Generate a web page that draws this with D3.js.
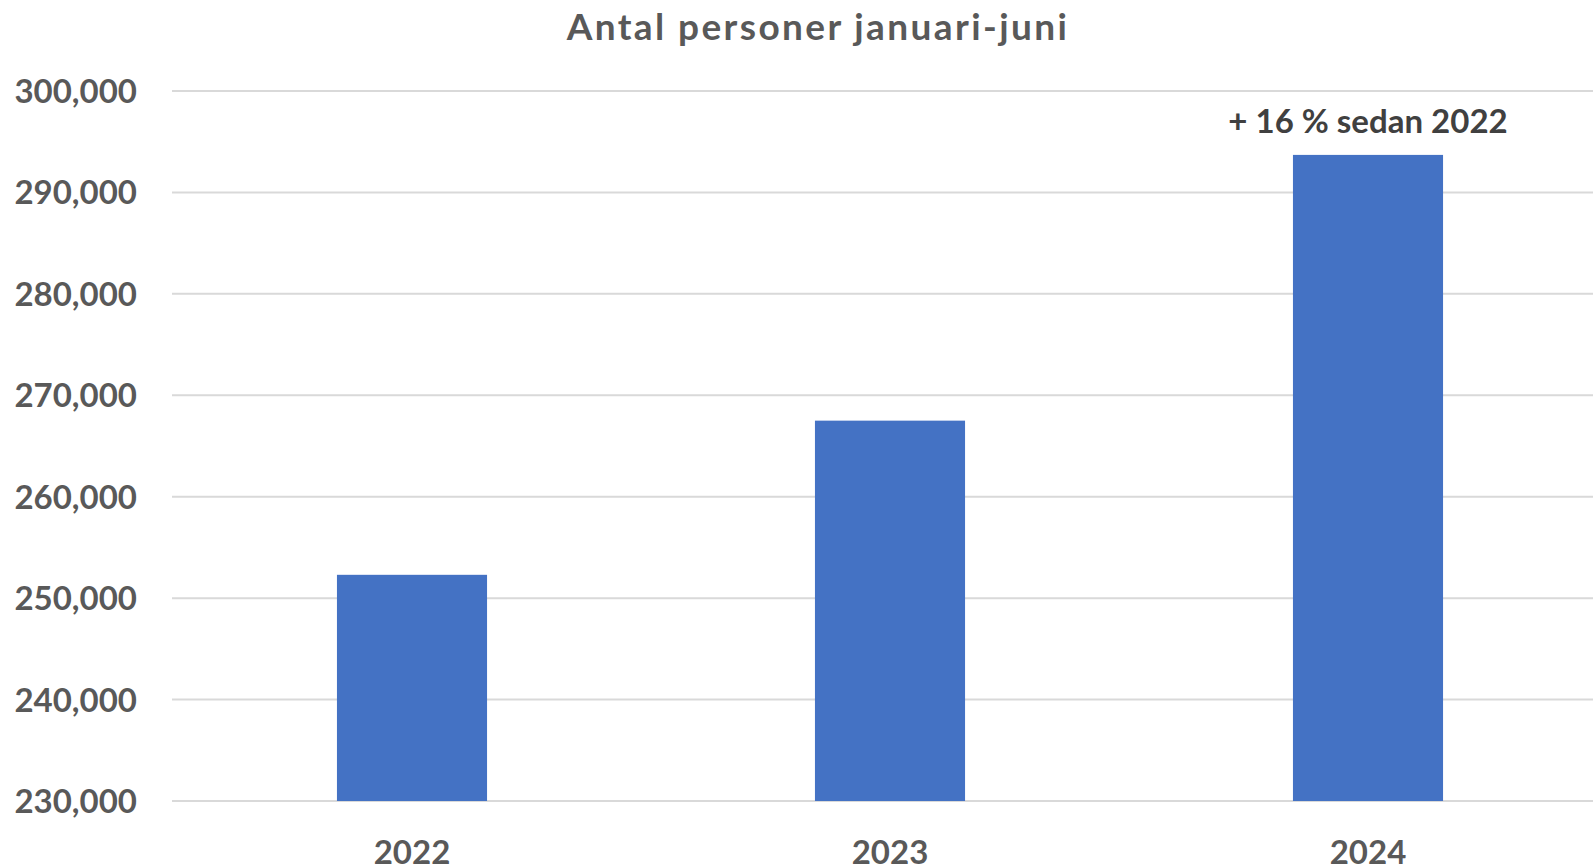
<!DOCTYPE html>
<meta charset='utf-8'>
<style>
body {
    margin: 0;
    background: #fff;
}

text {
    font-family: Lato, 'Open Sans', sans-serif;
    font-weight: 700;
}

.grid line {
    stroke: #d9d9d9;
    stroke-width: 2px;
}
</style>

<body>
    <div class='chart'></div>
    <script src='https://cdn.jsdelivr.net/npm/d3@7'></script>
    <script>
    var years = ['2022', '2023', '2024'];
    var persons = [252300, 267500, 293700];
    var yTicks = [230000, 240000, 250000, 260000, 270000, 280000, 290000, 300000];
    var title = 'Antal personer januari-juni';
    var note = '+ 16 % sedan 2022';

    var width = 1593,
        height = 866;

    var svg = d3.select('.chart').append('svg')
        .attr('width', width)
        .attr('height', height);

    var x = d3.scaleBand()
        .domain(years)
        .range([173, 1607])
        .paddingInner(0.686)
        .paddingOuter(0.343);

    var y = d3.scaleLinear()
        .domain([230000, 300000])
        .range([801, 91]);

    var fmt = d3.format(',');

    // gridlines
    svg.append('g')
        .attr('class', 'grid')
        .selectAll('line')
        .data(yTicks)
        .enter().append('line')
        .attr('x1', 172)
        .attr('x2', width)
        .attr('y1', function(d) { return y(d); })
        .attr('y2', function(d) { return y(d); });

    // tick labels
    svg.append('g')
        .selectAll('text')
        .data(yTicks)
        .enter().append('text')
        .attr('x', 137)
        .attr('y', function(d) { return y(d) + 12; })
        .attr('text-anchor', 'end')
        .attr('fill', '#595959')
        .style('font-size', '33px')
        .text(function(d) { return fmt(d); });

    // bars
    svg.append('g')
        .selectAll('rect')
        .data(persons)
        .enter().append('rect')
        .attr('x', function(d, i) { return x(years[i]); })
        .attr('width', x.bandwidth())
        .attr('y', function(d) { return y(d); })
        .attr('height', function(d) { return y(230000) - y(d); })
        .attr('fill', '#4472c4');

    // category labels (cut at the bottom edge, like the original)
    svg.append('g')
        .selectAll('text')
        .data(years)
        .enter().append('text')
        .attr('x', function(d) { return x(d) + x.bandwidth() / 2; })
        .attr('y', 864)
        .attr('text-anchor', 'middle')
        .attr('fill', '#595959')
        .style('font-size', '33px')
        .text(function(d) { return d; });

    svg.append('text')
        .attr('x', 818)
        .attr('y', 40)
        .attr('text-anchor', 'middle')
        .attr('fill', '#595959')
        .style('font-size', '37px')
        .style('letter-spacing', '2.4px')
        .text(title);

    svg.append('text')
        .attr('x', x('2024') + x.bandwidth() / 2)
        .attr('y', 133)
        .attr('text-anchor', 'middle')
        .attr('fill', '#404040')
        .style('font-size', '33px')
        .text(note);
    </script>
